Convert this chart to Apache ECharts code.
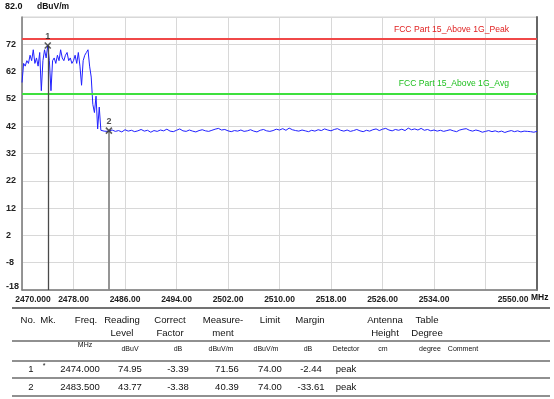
<!DOCTYPE html>
<html>
<head>
<meta charset="utf-8">
<script src="https://cdn.jsdelivr.net/npm/echarts@6/dist/echarts.min.js"></script>
<style>
  html, body { margin: 0; padding: 0; background: #fff; }
  #chart { width: 554px; height: 399px; }
</style>
</head>
<body>
<div id="chart"></div>
<script>
// Sweep 1: 2470.00 – 2483.50 MHz in 0.25 MHz steps, level in dBuV/m
const sweepAStart = 2470, sweepAStep = 0.25;
const levelsA = [
  58, 65, 64, 66, 65, 68, 66, 70, 65, 67, 64, 69, 55, 66, 70, 67, 71.56, 66, 55, 66,
  67, 65, 68, 66, 70, 67, 66, 68, 69, 66, 67, 65, 66, 68, 65, 69, 64, 57, 66, 68,
  69, 70, 64, 60, 50, 47, 53, 41, 49, 40.5, 41, 40.2, 40.8, 40.1, 40.39
];
// Sweep 2: 2484.0 – 2550.0 MHz in 0.5 MHz steps (noise floor)
const sweepBStart = 2484, sweepBStep = 0.5;
const levelsB = [
  40.6, 40.1, 40.4, 39.9, 40.7, 40.2, 40.5, 40.0, 40.3, 40.8,
  40.2, 40.5, 39.8, 40.4, 40.1, 40.6, 40.3, 40.9, 40.2, 40.0,
  40.5, 41.0, 40.3, 40.1, 40.6, 40.2, 39.9, 40.4, 40.7, 40.3,
  40.1, 40.5, 40.9, 41.2, 40.6, 40.8, 40.3, 40.0, 40.4, 40.2,
  40.6, 40.1, 40.3, 40.7, 40.2, 39.9, 40.5, 40.8, 40.3, 40.1,
  40.4, 40.9, 40.6, 41.1, 40.5, 41.3, 40.7, 40.4, 40.2, 40.6,
  40.3, 40.0, 40.5, 40.2, 40.7, 40.4, 41.0, 40.6, 40.3, 40.8,
  41.1, 40.5, 40.2, 40.6, 40.1, 40.4, 40.8, 40.3, 40.0, 40.5,
  40.2, 40.7, 41.0, 40.4, 40.9, 41.2, 40.6, 40.3, 40.8, 40.5,
  40.9, 40.4, 41.3, 40.7, 41.0, 40.6, 41.2, 40.5, 40.8, 40.3,
  40.6, 40.2, 40.5, 40.1, 40.4, 40.7, 40.3, 40.0, 40.6, 40.9,
  41.1, 40.5, 40.2, 40.6, 40.3, 39.8, 40.1, 40.4, 40.0, 40.3,
  39.9, 40.2, 39.7, 40.1, 40.4, 40.0, 40.3, 39.9, 40.2, 40.1,
  40.0, 39.8, 40.1
];

// Limit lines (dBuV/m)
const peakLimit = 74.0;
const avgLimit = 54.0;
const peakLimitName = 'FCC Part 15_Above 1G_Peak';
const avgLimitName = 'FCC Part 15_Above 1G_Avg';

// Marker table
const markerNo = [1, 2];
const markerFlag = ['*', ''];
const markerFreq = [2474.000, 2483.500];
const readingLevel = [74.95, 43.77];
const correctFactor = [-3.39, -3.38];
const measurement = [71.56, 40.39];
const limitValue = [74.00, 74.00];
const marginValue = [-2.44, -33.61];
const detector = ['peak', 'peak'];

// Axis ranges
const freqMin = 2470, freqMax = 2550, freqStep = 8;
const levelMin = -18, levelMax = 82, levelStep = 10;

const traceData = [];
levelsA.forEach((v, i) => traceData.push([sweepAStart + i * sweepAStep, v]));
levelsB.forEach((v, i) => traceData.push([sweepBStart + i * sweepBStep, v]));

const markerData = markerFreq.map((f, i) => [f, measurement[i]]);

const FONT = '"Liberation Sans", Arial, sans-serif';
const GRID = { left: 22, top: 17, right: 17, bottom: 109 };

// --- table below the plot ---
const headX = [28, 48, 86, 122, 170, 223, 270, 310, 346, 385, 427, 463];
const unitX = [28, 48, 85, 130, 178, 221, 266, 308, 346, 383, 430, 463];
const headRows = [
  ['No.', 'Mk.', 'Freq.', 'Reading', 'Correct', 'Measure-', 'Limit', 'Margin', '', 'Antenna', 'Table', ''],
  ['', '', '', 'Level', 'Factor', 'ment', '', '', '', 'Height', 'Degree', '']
];
const unitRow = ['', '', 'MHz', 'dBuV', 'dB', 'dBuV/m', 'dBuV/m', 'dB', 'Detector', 'cm', 'degree', 'Comment'];
const ruleY = [308, 341, 361, 378, 396];

const graphics = [];
function txt(x, y, s, size, opts) {
  graphics.push({
    type: 'text', x: x, y: y, silent: true,
    style: Object.assign({
      text: s, fill: '#111', font: (opts && opts.weight || 'normal') + ' ' + size + 'px ' + FONT,
      textAlign: 'center', textVerticalAlign: 'middle'
    }, opts && opts.style)
  });
}
ruleY.forEach((y, i) => graphics.push({
  type: 'line', silent: true,
  shape: { x1: 12, y1: y, x2: 550, y2: y },
  style: { stroke: i === 0 ? '#444' : '#222', lineWidth: i === 0 ? 1.6 : 1.2 }
}));
headRows[0].forEach((s, i) => { if (s) txt(headX[i], 320, s, 9.6); });
headRows[1].forEach((s, i) => { if (s) txt(headX[i], 333, s, 9.6); });
unitRow.forEach((s, i) => { if (s) txt(unitX[i], i === 2 ? 345 : 349, s, 7); });

const rowY = [369, 387];
const dataX = [31, 44, 80, 130, 178, 227, 270, 311, 346];
markerNo.forEach((n, r) => {
  const y = rowY[r];
  txt(dataX[0], y, String(n), 9.5);
  if (markerFlag[r]) txt(dataX[1], y - 3, markerFlag[r], 7);
  txt(dataX[2], y, markerFreq[r].toFixed(3), 9.5);
  txt(dataX[3], y, readingLevel[r].toFixed(2), 9.5);
  txt(dataX[4], y, correctFactor[r].toFixed(2), 9.5);
  txt(dataX[5], y, measurement[r].toFixed(2), 9.5);
  txt(dataX[6], y, limitValue[r].toFixed(2), 9.5);
  txt(dataX[7], y, marginValue[r].toFixed(2), 9.5);
  txt(dataX[8], y, detector[r], 9.5);
});

// axis captions
txt(5, 7, levelMax.toFixed(1), 9, { weight: 'bold', style: { textAlign: 'left' } });
txt(37, 7, 'dBuV/m', 8.5, { weight: 'bold', style: { textAlign: 'left' } });
txt(531, 298, 'MHz', 8.5, { weight: 'bold', style: { textAlign: 'left' } });

const chart = echarts.init(document.getElementById('chart'), null, { renderer: 'canvas' });
chart.setOption({
  animation: false,
  backgroundColor: '#fff',
  grid: Object.assign({ show: true, borderColor: '#d4d4d4', borderWidth: 1 }, GRID),
  xAxis: {
    type: 'value', min: freqMin, max: freqMax, interval: freqStep,
    axisLine: { show: true, onZero: false, lineStyle: { color: '#7a7a7a', width: 1.5 } },
    axisTick: { show: false },
    splitLine: { show: true, lineStyle: { color: '#d8d8d8', width: 1 } },
    axisLabel: {
      margin: 5, color: '#222', fontSize: 8.5, fontWeight: 'bold', fontFamily: FONT,
      formatter: function (v) {
        if (v === freqMin) return '{first|' + v.toFixed(3) + '}';
        if (v === freqMax) return '{last|' + v.toFixed(2) + '}';
        if (v === freqMax - freqStep) return '';
        return v.toFixed(2);
      },
      rich: {
        first: { fontSize: 8.5, fontWeight: 'bold', fontFamily: FONT, color: '#222', padding: [0, 0, 0, 22] },
        last: { fontSize: 8.5, fontWeight: 'bold', fontFamily: FONT, color: '#222', padding: [0, 48, 0, 0] }
      }
    }
  },
  yAxis: [{
    type: 'value', min: levelMin, max: levelMax, interval: levelStep,
    axisLine: { show: true, onZero: false, lineStyle: { color: '#7a7a7a', width: 1.5 } },
    axisTick: { show: false },
    splitLine: { show: true, lineStyle: { color: '#d8d8d8', width: 1 } },
    axisLabel: {
      align: 'left', margin: 16, color: '#222', fontSize: 9, fontWeight: 'bold', fontFamily: FONT,
      formatter: function (v) {
        if (v === levelMax) return '';
        if (v === levelMin) return '{low|' + v + '}';
        return String(v);
      },
      rich: {
        low: { fontSize: 9, fontWeight: 'bold', fontFamily: FONT, color: '#222', padding: [0, 0, 7, 0] }
      }
    }
  }, {
    type: 'value', position: 'right', min: levelMin, max: levelMax, interval: levelStep,
    axisLine: { show: true, onZero: false, lineStyle: { color: '#666', width: 2 } },
    axisTick: { show: false }, axisLabel: { show: false }, splitLine: { show: false }
  }],
  series: [{
    name: 'Trace', type: 'line', data: traceData, showSymbol: false, silent: true,
    lineStyle: { color: '#2020ff', width: 1 }, z: 3,
    markLine: {
      silent: true, symbol: ['none', 'none'],
      data: [
        { name: peakLimitName, yAxis: peakLimit, lineStyle: { color: '#f04848', width: 2, type: 'solid' },
          label: { color: '#e02020' } },
        { name: avgLimitName, yAxis: avgLimit, lineStyle: { color: '#3ee03e', width: 2, type: 'solid' },
          label: { color: '#20c020' } }
      ],
      label: {
        show: true, position: 'insideEndTop', formatter: '{b}', fontSize: 8.6, fontFamily: FONT,
        distance: [28, 5]
      }
    }
  }, {
    name: 'Markers', type: 'scatter', data: markerData, silent: true, z: 5,
    symbol: 'path://M0,0L10,10M10,0L0,10', symbolSize: 6,
    itemStyle: { color: 'rgba(0,0,0,0)', borderColor: '#333', borderWidth: 1.6 },
    label: {
      show: true, position: 'top', distance: 1, fontSize: 9, fontWeight: 'bold', fontFamily: FONT, color: '#222',
      formatter: function (p) { return String(markerNo[p.dataIndex]); }
    },
    markLine: {
      silent: true, symbol: ['none', 'none'], label: { show: false },
      data: markerData.map((m, i) => [
        { coord: [m[0], m[1]], lineStyle: { color: i === 0 ? '#4a4a4a' : '#8a8a8a', width: i === 0 ? 1.3 : 1.8, type: 'solid' } },
        { coord: [m[0], levelMin] }
      ])
    }
  }],
  graphic: graphics
});
</script>
</body>
</html>
